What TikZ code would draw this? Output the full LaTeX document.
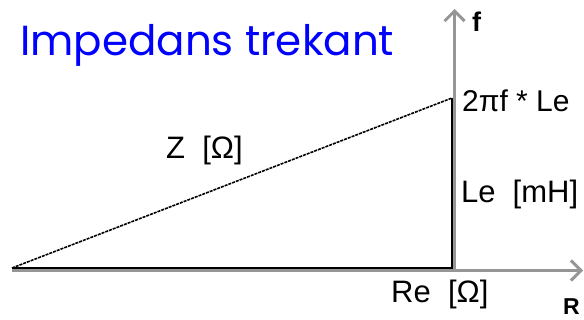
\documentclass[tikz,border=0pt]{standalone}
\usepackage{fontspec}
\setmainfont{Liberation Sans}
\newfontfamily\titlefont{Poppins}
\newfontfamily\boldaxis{Liberation Sans Bold}
\usetikzlibrary{arrows.meta}
\definecolor{axisgray}{RGB}{150,150,150}
\definecolor{titleblue}{RGB}{0,0,255}
\tikzset{
  axisline/.style={draw=axisgray, line width=3pt, -{Straight Barb[length=10pt,width=20pt,line width=3pt]}},
  sideline/.style={draw=black, line width=2.5pt},
  hypline/.style={draw=black, line width=1.6pt, dash pattern=on 3pt off 1pt},
  lbl/.style={inner sep=0pt, anchor=base west, font=\fontsize{31}{36}\selectfont},
  axlbl/.style={inner sep=0pt, anchor=base west},
}
\begin{document}
\begin{tikzpicture}[x=1pt,y=-1pt]
\useasboundingbox (0,0) rectangle (584,320);
\fill[white] (0,0) rectangle (584,320);
% coordinates
\coordinate (O) at (12,268);
\coordinate (C) at (452,268);
\coordinate (T) at (452,98);
\coordinate (xs) at (12,270.5);
\coordinate (xe) at (583,270.5);
\coordinate (ys) at (454.5,270.5);
\coordinate (ye) at (454.5,9);
% axes
\draw[axisline] (xs) -- (xe);
\draw[axisline] (ys) -- (ye);
% triangle
\draw[sideline] (O) -- (C) -- (T);
\draw[hypline] (O) -- (T);
% labels
\node[inner sep=0pt, anchor=base west, text=titleblue, font=\titlefont\fontsize{42}{48}\selectfont] (title) at (20,56) {Impedans trekant};
\node[axlbl] (f) at (472,32) {\boldaxis\fontsize{27}{30}\selectfont f};
\node[axlbl] (R) at (563,315) {\boldaxis\fontsize{23}{26}\selectfont R};
\node[lbl, font=\fontsize{30}{36}\selectfont] (omega) at (462,112) {2πf * Le};
\node[lbl] (Le) at (461,203) {Le\hspace{0.55em}[mH]};
\node[lbl] (Z) at (166,159) {Z~~[Ω]};
\node[lbl] (Re) at (391,303) {Re~~[Ω]};
\end{tikzpicture}
\end{document}
